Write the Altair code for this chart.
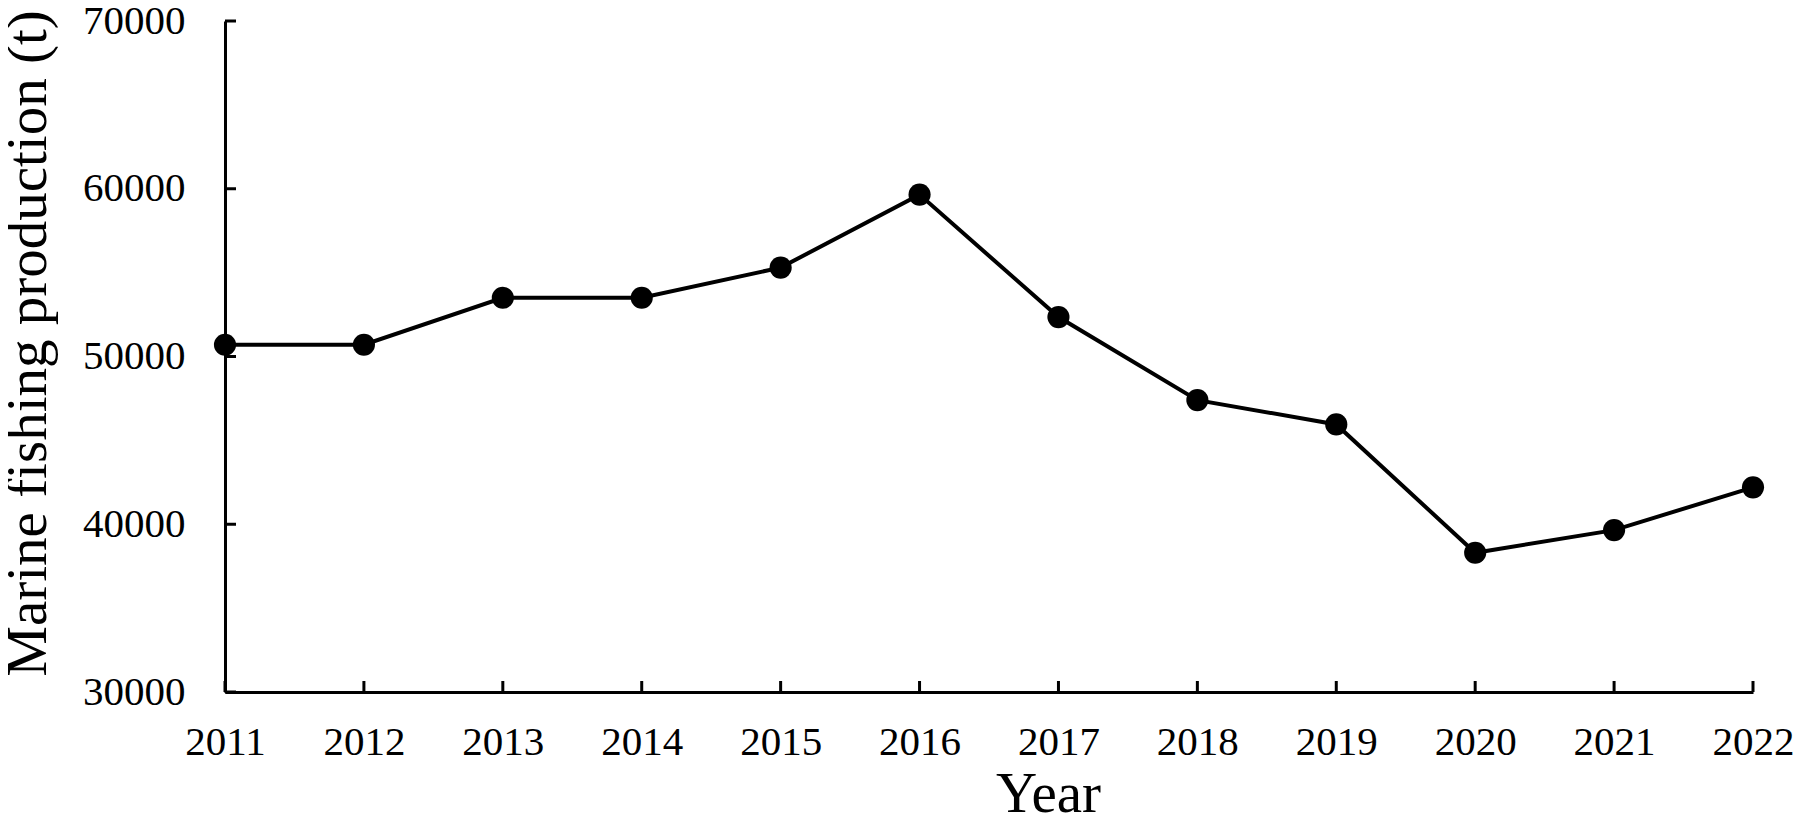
import altair as alt
import pandas as pd

years = [2011, 2012, 2013, 2014, 2015, 2016, 2017, 2018, 2019, 2020, 2021, 2022]
production = [50700, 50700, 53500, 53500, 55300, 59650, 52350, 47400, 45950, 38300, 39650, 42200]
y_ticks = [30000, 40000, 50000, 60000, 70000]

df = pd.DataFrame({"Year": years, "Production": production})
df_yt = pd.DataFrame({"v": y_ticks})

W, H = 1528, 671
FONT = "Liberation Serif"

x_enc = alt.X(
    "Year:Q",
    scale=alt.Scale(domain=[2011, 2022], nice=False, zero=False),
    axis=alt.Axis(
        title="Year",
        values=years,
        format="d",
        ticks=False,
        grid=False,
        domainColor="black",
        domainWidth=3,
        labelFont=FONT,
        labelFontSize=41,
        labelColor="black",
        labelPadding=30,
        labelFlush=False,
        labelOverlap=False,
        titleFont=FONT,
        titleFontSize=57,
        titleFontWeight="normal",
        titleColor="black",
        titleBaseline="alphabetic",
        titleAlign="center",
        titleX=823,
        titleY=119,
    ),
)
y_enc = alt.Y(
    "Production:Q",
    scale=alt.Scale(domain=[30000, 70000], nice=False, zero=False),
    axis=alt.Axis(
        title="Marine fishing production (t)",
        values=y_ticks,
        format="d",
        ticks=False,
        grid=False,
        domainColor="black",
        domainWidth=3,
        labelFont=FONT,
        labelFontSize=41,
        labelColor="black",
        labelPadding=40,
        labelFlush=False,
        labelOverlap=False,
        titleFont=FONT,
        titleFontSize=57,
        titleFontWeight="normal",
        titleColor="black",
        titleAngle=270,
        titleBaseline="alphabetic",
        titleAlign="center",
        titleX=-180,
        titleY=322,
    ),
)

base = alt.Chart(df)
line = base.mark_line(color="black", strokeWidth=4).encode(x=x_enc, y=y_enc)
pts = base.mark_circle(color="black", size=490, opacity=1).encode(x="Year:Q", y="Production:Q")

xticks = base.mark_rule(color="black", strokeWidth=3).encode(
    x="Year:Q", y=alt.value(H), y2=alt.value(H - 11)
)
yticks = alt.Chart(df_yt).mark_rule(color="black", strokeWidth=3).encode(
    y="v:Q", x=alt.value(0), x2=alt.value(11)
)

chart = (
    alt.layer(line, xticks, yticks, pts)
    .properties(
        width=W,
        height=H,
        background="white",
        autosize=alt.AutoSizeParams(type="none"),
        padding={"left": 217, "top": 13, "right": 40, "bottom": 122},
    )
    .configure_view(strokeWidth=0, stroke="transparent")
)

chart.save("out.html", embed_options={"renderer": "svg", "actions": False})
